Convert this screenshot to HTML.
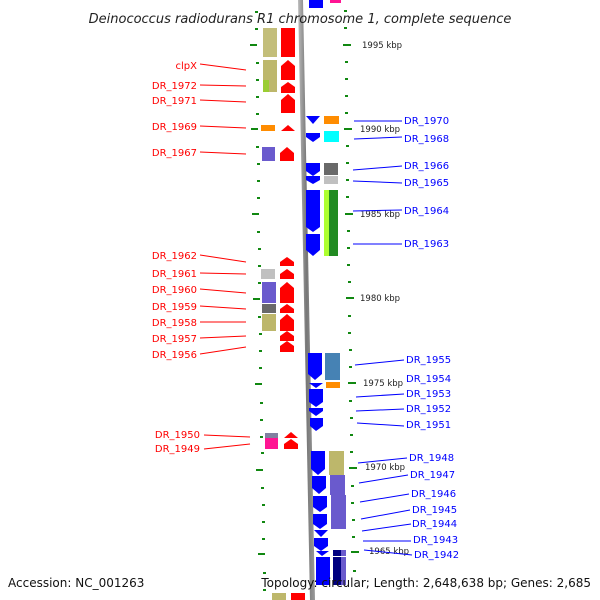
<!DOCTYPE html>
<html><head><meta charset="utf-8"><style>
html,body{margin:0;padding:0;background:#fff;}
svg{display:block;font-family:"DejaVu Sans","Liberation Sans",sans-serif;}
</style></head><body>
<svg width="600" height="600" viewBox="0 0 600 600" xmlns="http://www.w3.org/2000/svg">
<defs>
<linearGradient id="bb" x1="0" x2="1"><stop offset="0" stop-color="#bbb"/><stop offset="0.5" stop-color="#777"/><stop offset="1" stop-color="#999"/></linearGradient>
</defs>
<!-- backbone -->
<polygon points="298,0 303,0 315,600 310,600" fill="url(#bb)"/>
<!-- ticks -->
<g fill="#118811">
<rect x="255" y="11" width="3" height="2"/><rect x="255" y="28" width="3" height="2"/><rect x="256" y="62" width="3" height="2"/><rect x="256" y="79" width="3" height="2"/><rect x="256" y="96" width="3" height="2"/><rect x="256" y="113" width="3" height="2"/><rect x="256" y="146" width="3" height="2"/><rect x="257" y="163" width="3" height="2"/><rect x="257" y="180" width="3" height="2"/><rect x="257" y="197" width="3" height="2"/><rect x="257" y="231" width="3" height="2"/><rect x="258" y="248" width="3" height="2"/><rect x="258" y="265" width="3" height="2"/><rect x="258" y="282" width="3" height="2"/><rect x="258" y="316" width="3" height="2"/><rect x="259" y="333" width="3" height="2"/><rect x="259" y="350" width="3" height="2"/><rect x="259" y="367" width="3" height="2"/><rect x="260" y="402" width="3" height="2"/><rect x="260" y="419" width="3" height="2"/><rect x="260" y="436" width="3" height="2"/><rect x="261" y="452" width="3" height="2"/><rect x="261" y="487" width="3" height="2"/><rect x="262" y="504" width="3" height="2"/><rect x="262" y="521" width="3" height="2"/><rect x="262" y="538" width="3" height="2"/><rect x="263" y="572" width="3" height="2"/><rect x="263" y="589" width="3" height="2"/>
<rect x="250" y="44" width="7" height="2"/><rect x="251" y="128" width="7" height="2"/><rect x="252" y="213" width="7" height="2"/><rect x="253" y="298" width="7" height="2"/><rect x="255" y="383" width="7" height="2"/><rect x="256" y="469" width="7" height="2"/><rect x="258" y="553" width="7" height="2"/>
<rect x="344" y="10" width="3" height="2"/><rect x="344" y="27" width="3" height="2"/><rect x="345" y="61" width="3" height="2"/><rect x="345" y="78" width="3" height="2"/><rect x="345" y="95" width="3" height="2"/><rect x="345" y="112" width="3" height="2"/><rect x="346" y="145" width="3" height="2"/><rect x="346" y="162" width="3" height="2"/><rect x="346" y="179" width="3" height="2"/><rect x="346" y="196" width="3" height="2"/><rect x="347" y="230" width="3" height="2"/><rect x="347" y="247" width="3" height="2"/><rect x="347" y="264" width="3" height="2"/><rect x="348" y="281" width="3" height="2"/><rect x="348" y="315" width="3" height="2"/><rect x="348" y="332" width="3" height="2"/><rect x="349" y="349" width="3" height="2"/><rect x="349" y="366" width="3" height="2"/><rect x="349" y="400" width="3" height="2"/><rect x="350" y="417" width="3" height="2"/><rect x="350" y="434" width="3" height="2"/><rect x="350" y="451" width="3" height="2"/><rect x="351" y="485" width="3" height="2"/><rect x="351" y="502" width="3" height="2"/><rect x="352" y="519" width="3" height="2"/><rect x="352" y="536" width="3" height="2"/><rect x="353" y="570" width="3" height="2"/>
<rect x="343" y="44" width="8" height="2"/><rect x="344" y="128" width="8" height="2"/><rect x="345" y="213" width="8" height="2"/><rect x="346" y="297" width="8" height="2"/><rect x="348" y="382" width="8" height="2"/><rect x="349" y="467" width="8" height="2"/><rect x="351" y="551" width="8" height="2"/>
</g>
<g font-size="8.5" fill="#222">
<text x="362" y="48">1995 kbp</text><text x="360" y="132">1990 kbp</text><text x="360" y="217">1985 kbp</text><text x="360" y="301">1980 kbp</text><text x="363" y="386">1975 kbp</text><text x="365" y="470">1970 kbp</text><text x="369" y="554">1965 kbp</text>
</g>
<!-- left boxes -->
<g>
<rect x="263" y="28" width="14" height="29" fill="#bdb76b" opacity="0.9"/>
<rect x="263" y="60" width="14" height="20" fill="#bdb76b"/>
<rect x="263" y="80" width="6" height="12" fill="#9acd32"/><rect x="269" y="80" width="8" height="12" fill="#bdb76b"/>
<rect x="261" y="125" width="14" height="6" fill="#ff8c00"/>
<rect x="262" y="147" width="13" height="14" fill="#6a5acd"/>
<rect x="261" y="269" width="14" height="10" fill="#c0c0c0"/>
<rect x="262" y="282" width="14" height="21" fill="#6a5acd"/>
<rect x="262" y="304" width="14" height="9" fill="#696969"/>
<rect x="262" y="314" width="14" height="17" fill="#bdb76b"/>
<rect x="265" y="433" width="13" height="5" fill="#8080a0"/>
<rect x="265" y="438" width="13" height="11" fill="#ff1493"/>
<rect x="272" y="593" width="14" height="7" fill="#bdb76b"/>
</g>
<!-- left red arrows -->
<g fill="#ff0000">
<rect x="281" y="28" width="14" height="29"/>
<polygon points="281,66 288,60 295,66 295,80 281,80"/>
<polygon points="281,87 288,82 295,87 295,93 281,93"/>
<polygon points="281,100 288,94 295,100 295,113 281,113"/>
<polygon points="281,131 288,125 295,131"/>
<polygon points="280,153 287,147 294,153 294,161 280,161"/>
<polygon points="280,262 287,257 294,262 294,266 280,266"/>
<polygon points="280,274 287,269 294,274 294,279 280,279"/>
<polygon points="280,288 287,282 294,288 294,303 280,303"/>
<polygon points="280,309 287,304 294,309 294,313 280,313"/>
<polygon points="280,320 287,314 294,320 294,331 280,331"/>
<polygon points="280,336 287,331 294,336 294,341 280,341"/>
<polygon points="280,346 287,341 294,346 294,352 280,352"/>
<polygon points="284,438 291,432 298,438"/>
<polygon points="284,444 291,439 298,444 298,449 284,449"/>
<rect x="291" y="593" width="14" height="7"/>
</g>
<!-- right boxes -->
<g>
<rect x="330" y="0" width="11" height="3" fill="#ff1493"/>
<rect x="324" y="116" width="15" height="8" fill="#ff8c00"/>
<rect x="324" y="131" width="15" height="11" fill="cyan"/>
<rect x="324" y="163" width="14" height="12" fill="#696969"/>
<rect x="324" y="176" width="14" height="8" fill="#c0c0c0"/>
<rect x="324" y="190" width="5" height="66" fill="#adff2f"/><rect x="329" y="190" width="9" height="66" fill="#228b22"/>
<rect x="325" y="353" width="15" height="27" fill="#4682b4"/>
<rect x="326" y="382" width="14" height="6" fill="#ff8c00"/>
<rect x="329" y="451" width="15" height="24" fill="#bdb76b"/>
<rect x="330" y="475" width="15" height="20" fill="#6a5acd"/>
<rect x="331" y="495" width="15" height="34" fill="#6a5acd"/>
<rect x="333" y="550" width="8" height="6" fill="#000080"/><rect x="341" y="550" width="5" height="6" fill="#6a5acd"/>
<rect x="333" y="557" width="8" height="28" fill="#000080"/><rect x="341" y="557" width="5" height="28" fill="#6a5acd"/>
</g>
<!-- right blue arrows -->
<g fill="#0000ff">
<rect x="309" y="0" width="14" height="8"/>
<polygon points="306,116 320,116 313,124"/>
<polygon points="306,133 320,133 320,137 313,142 306,137"/>
<polygon points="306,163 320,163 320,171 313,176 306,171"/>
<polygon points="306,176 320,176 320,180 313,184 306,180"/>
<polygon points="306,190 320,190 320,227 313,232 306,227"/>
<polygon points="306,234 320,234 320,250 313,256 306,250"/>
<polygon points="308,353 322,353 322,374 315,380 308,374"/>
<polygon points="309,383 323,383 316,388"/>
<polygon points="309,389 323,389 323,402 316,407 309,402"/>
<polygon points="309,408 323,408 323,411 316,416 309,411"/>
<polygon points="310,418 323,418 323,426 316,431 310,426"/>
<polygon points="311,451 325,451 325,469 318,475 311,469"/>
<polygon points="312,476 326,476 326,488 319,494 312,488"/>
<polygon points="313,496 327,496 327,507 320,512 313,507"/>
<polygon points="313,514 327,514 327,524 320,529 313,524"/>
<polygon points="314,530 328,530 321,537"/>
<polygon points="314,538 328,538 328,546 321,551 314,546"/>
<polygon points="316,551 329,551 322,556"/>
<polygon points="316,557 330,557 330,585 316,585"/>
</g>
<!-- left labels -->
<g font-size="10" fill="#ff0000" text-anchor="end">
<text x="197" y="69">clpX</text>
<text x="197" y="89">DR_1972</text>
<text x="197" y="104">DR_1971</text>
<text x="197" y="130">DR_1969</text>
<text x="197" y="156">DR_1967</text>
<text x="197" y="259">DR_1962</text>
<text x="197" y="277">DR_1961</text>
<text x="197" y="293">DR_1960</text>
<text x="197" y="310">DR_1959</text>
<text x="197" y="326">DR_1958</text>
<text x="197" y="342">DR_1957</text>
<text x="197" y="358">DR_1956</text>
<text x="200" y="438">DR_1950</text>
<text x="200" y="452">DR_1949</text>
</g>
<g stroke="#ff0000" stroke-width="1">
<line x1="200" y1="64" x2="246" y2="70"/>
<line x1="200" y1="85" x2="246" y2="86"/>
<line x1="200" y1="100" x2="246" y2="102"/>
<line x1="200" y1="126" x2="246" y2="128"/>
<line x1="200" y1="152" x2="246" y2="154"/>
<line x1="200" y1="255" x2="246" y2="262"/>
<line x1="200" y1="273" x2="246" y2="274"/>
<line x1="200" y1="289" x2="246" y2="293"/>
<line x1="200" y1="306" x2="246" y2="309"/>
<line x1="200" y1="322" x2="246" y2="322"/>
<line x1="200" y1="338" x2="246" y2="336"/>
<line x1="200" y1="354" x2="246" y2="347"/>
<line x1="204" y1="435" x2="250" y2="437"/>
<line x1="204" y1="449" x2="250" y2="444"/>
</g>
<!-- right labels -->
<g stroke="#0000ff" stroke-width="1">
<line x1="354" y1="121" x2="402" y2="121"/>
<line x1="354" y1="139" x2="402" y2="137"/>
<line x1="353" y1="170" x2="402" y2="166"/>
<line x1="353" y1="181" x2="402" y2="183"/>
<line x1="353" y1="211" x2="402" y2="210"/>
<line x1="353" y1="244" x2="402" y2="244"/>
<line x1="355" y1="365" x2="404" y2="360"/>
<line x1="356" y1="397" x2="404" y2="394"/>
<line x1="356" y1="411" x2="404" y2="409"/>
<line x1="357" y1="423" x2="404" y2="426"/>
<line x1="358" y1="463" x2="407" y2="458"/>
<line x1="359" y1="483" x2="408" y2="475"/>
<line x1="360" y1="502" x2="409" y2="494"/>
<line x1="361" y1="519" x2="410" y2="510"/>
<line x1="362" y1="531" x2="411" y2="524"/>
<line x1="363" y1="541" x2="411" y2="541"/>
<line x1="364" y1="550" x2="412" y2="555"/>
</g>
<g font-size="10" fill="#0000ff">
<text x="404" y="124">DR_1970</text>
<text x="404" y="142">DR_1968</text>
<text x="404" y="169">DR_1966</text>
<text x="404" y="186">DR_1965</text>
<text x="404" y="214">DR_1964</text>
<text x="404" y="247">DR_1963</text>
<text x="406" y="363">DR_1955</text>
<text x="406" y="382">DR_1954</text>
<text x="406" y="397">DR_1953</text>
<text x="406" y="412">DR_1952</text>
<text x="406" y="428">DR_1951</text>
<text x="409" y="461">DR_1948</text>
<text x="410" y="478">DR_1947</text>
<text x="411" y="497">DR_1946</text>
<text x="412" y="513">DR_1945</text>
<text x="412" y="527">DR_1944</text>
<text x="413" y="543">DR_1943</text>
<text x="414" y="558">DR_1942</text>
</g>
<text x="300" y="23" font-size="13" font-style="italic" fill="#222" text-anchor="middle">Deinococcus radiodurans R1 chromosome 1, complete sequence</text>
<text x="8" y="587" font-size="12" fill="#111">Accession: NC_001263</text>
<text x="591" y="587" font-size="12" fill="#111" text-anchor="end">Topology: circular; Length: 2,648,638 bp; Genes: 2,685</text>
</svg>
</body></html>
